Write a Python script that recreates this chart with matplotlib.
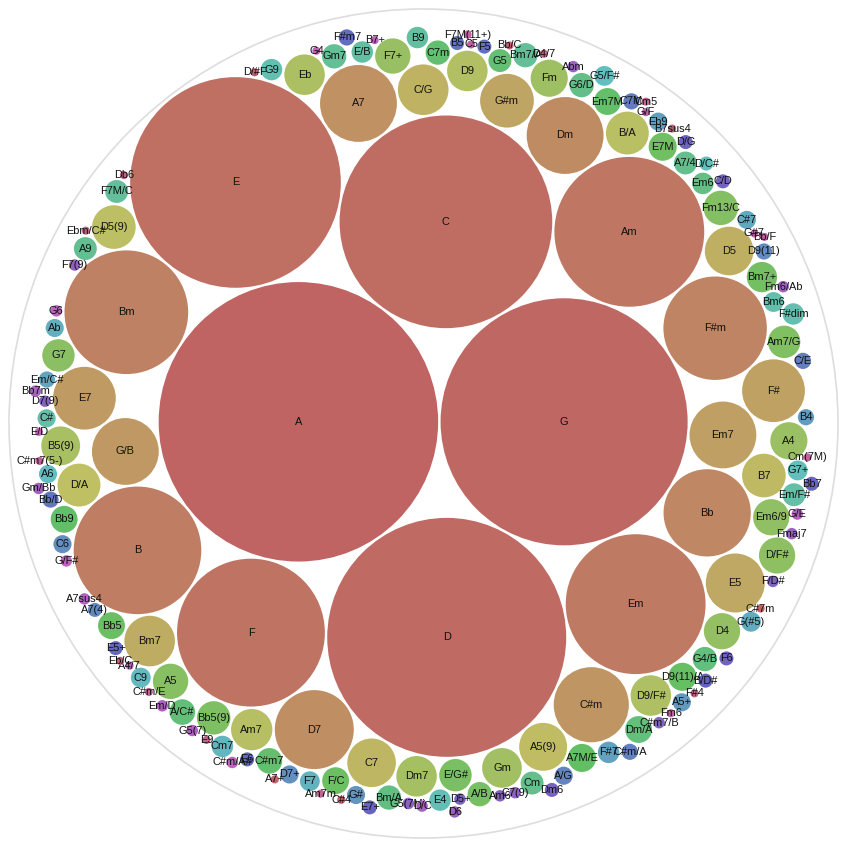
import math
import colorsys
import numpy as np
import matplotlib
matplotlib.use("Agg")
import matplotlib.pyplot as plt
from matplotlib.patches import Circle

# ---------------- data (in input order) ----------------
chords = [
    "A", "G", "D", "C", "E", "F", "Am", "Em", "B", "Bm", "F#m", "Bb", "Dm", "D7", "A7",
    "C#m", "G/B", "E7", "Em7", "F#", "G#m", "E5", "Bm7", "D5", "C/G", "C7", "B7",
    "A5(9)", "D/A", "D5(9)", "B/A", "Am7", "D9", "D9/F#", "Eb", "B5(9)", "Dm7",
    "Gm", "Fm", "A4", "F7+", "D4", "Em6/9", "D/F#", "G7", "A5", "Fm13/C", "Am7/G",
    "Bb5(9)", "E/G#", "A/B", "Bm7+", "E7M", "F/C", "Bb5", "D9(11)/A", "A7M/E", "Bb9",
    "Em7M", "C#m7", "C7m", "G5", "A/C#", "Dm/A", "G4/B",
    "Bm/A", "Em6", "G6/D", "Cm", "A7/4", "A9", "Gm7", "Bm7/A", "F7M/C", "B9", "E/B",
    "Em/F#", "C#", "Bm6", "F#dim", "G9",
    "E4", "D/C#", "G7+", "G5/F#", "A6", "C9", "Cm7", "F7", "Ab", "G(#5)", "C#7",
    "Em/C#", "F#7", "Eb9", "B4", "A5+", "G#", "D7+", "C6",
    "D9(11)", "A7(4)", "A/G", "C#m/A", "C/E", "C7M", "Bb/D", "B5", "F5", "F#m7",
    "E6", "E5+", "B/D#", "E7+", "Bb7", "D/G", "F6", "C/D", "Dm6",
    "D5+", "F/D#", "C#m7/B", "D7(9)", "Am6", "G5(7M)", "C7(9)", "F7(9)", "D6",
    "Fmaj7", "Abm", "Fm6/Ab", "Gm/Bb", "D/C", "Bb7m", "Em/D", "G5(7)", "A7sus4", "G/E",
    "G6", "C#m/A#", "G/F#",
    "B7+", "A4/7", "E/D", "G4", "G#7", "G/F", "Bb/F", "C5", "F7M(11+)", "Fm6",
    "Cm(7M)", "C#m7(5-)", "Am7m", "Cm5", "C#m/E", "E9", "Db6", "F#4", "Ebm/C#",
    "Eb/C", "D4/7", "B7sus4", "D/#F", "Bb/C", "A7+", "C#4", "C#7m",
]
counts = [
    1190, 930, 870, 689, 676, 333, 342, 298, 248, 233, 163, 116, 90, 95, 90,
    86, 68, 60, 68, 60, 44, 53, 39, 36, 39, 36, 29,
    35, 28, 29, 28, 26, 25, 25, 25, 23, 25,
    24, 21, 21, 19, 20, 20, 20, 16, 19, 18, 16,
    17, 16, 9, 14, 12, 11, 11, 12, 12, 11,
    11, 10, 9, 8, 10, 11, 9,
    9, 7, 9, 8, 8, 8, 9, 9, 8, 7, 7,
    8, 5, 6, 7, 7,
    7, 3, 6, 6, 5, 6, 7, 6, 5, 6, 5,
    4, 7, 5, 4, 5, 5, 5, 5,
    4, 3, 5, 4, 4, 4, 4, 3, 3, 4,
    3, 3, 3, 3, 3, 3, 3, 3, 3,
    2, 2, 2, 2, 2, 2, 2, 2, 2,
    2, 2, 2, 2, 2, 2, 2, 2, 2, 2,
    2, 2, 2,
    1, 1, 1, 1, 1, 1, 1, 1, 1, 1,
    1, 1, 1, 1, 1, 1, 1, 1, 1,
    1, 1, 1, 1, 1, 1, 1, 1,
]

# ---------------- d3-style circle packing ----------------
class Circ:
    __slots__ = ("x", "y", "r")
    def __init__(self, r):
        self.x = 0.0
        self.y = 0.0
        self.r = r


class Node:
    __slots__ = ("c", "next", "prev")
    def __init__(self, c):
        self.c = c
        self.next = None
        self.prev = None


def place(b, a, c):
    dx = b.x - a.x
    dy = b.y - a.y
    d2 = dx * dx + dy * dy
    if d2:
        a2 = (a.r + c.r) ** 2
        b2 = (b.r + c.r) ** 2
        if a2 > b2:
            x = (d2 + b2 - a2) / (2 * d2)
            y = math.sqrt(max(0.0, b2 / d2 - x * x))
            c.x = b.x - x * dx - y * dy
            c.y = b.y - x * dy + y * dx
        else:
            x = (d2 + a2 - b2) / (2 * d2)
            y = math.sqrt(max(0.0, a2 / d2 - x * x))
            c.x = a.x + x * dx - y * dy
            c.y = a.y + x * dy + y * dx
    else:
        c.x = a.x + c.r
        c.y = a.y


def intersects(a, b):
    dr = a.r + b.r - 1e-6
    dx = b.x - a.x
    dy = b.y - a.y
    return dr > 0 and dr * dr > dx * dx + dy * dy


def score(node):
    a = node.c
    b = node.next.c
    ab = a.r + b.r
    dx = (a.x * b.r + b.x * a.r) / ab
    dy = (a.y * b.r + b.y * a.r) / ab
    return dx * dx + dy * dy


def encloses_not(a, b):
    dr = a[2] - b[2]
    dx = b[0] - a[0]
    dy = b[1] - a[1]
    return dr < 0 or dr * dr < dx * dx + dy * dy


def encloses_weak(a, b):
    dr = a[2] - b[2] + max(a[2], b[2], 1) * 1e-9
    dx = b[0] - a[0]
    dy = b[1] - a[1]
    return dr > 0 and dr * dr > dx * dx + dy * dy


def encloses_weak_all(a, B):
    return all(encloses_weak(a, b) for b in B)


def basis2(a, b):
    x1, y1, r1 = a
    x2, y2, r2 = b
    x21, y21, r21 = x2 - x1, y2 - y1, r2 - r1
    l = math.sqrt(x21 * x21 + y21 * y21)
    return ((x1 + x2 + x21 / l * r21) / 2, (y1 + y2 + y21 / l * r21) / 2, (l + r1 + r2) / 2)


def basis3(a, b, c):
    x1, y1, r1 = a
    x2, y2, r2 = b
    x3, y3, r3 = c
    a2 = x1 - x2
    a3 = x1 - x3
    b2 = y1 - y2
    b3 = y1 - y3
    c2 = r2 - r1
    c3 = r3 - r1
    d1 = x1 * x1 + y1 * y1 - r1 * r1
    d2 = d1 - x2 * x2 - y2 * y2 + r2 * r2
    d3 = d1 - x3 * x3 - y3 * y3 + r3 * r3
    ab = a3 * b2 - a2 * b3
    xa = (b2 * d3 - b3 * d2) / (ab * 2) - x1
    xb = (b3 * c2 - b2 * c3) / ab
    ya = (a3 * d2 - a2 * d3) / (ab * 2) - y1
    yb = (a2 * c3 - a3 * c2) / ab
    A = xb * xb + yb * yb - 1
    Bq = 2 * (r1 + xa * xb + ya * yb)
    C = xa * xa + ya * ya - r1 * r1
    if abs(A) > 1e-6:
        r = -((Bq + math.sqrt(max(0.0, Bq * Bq - 4 * A * C))) / (2 * A))
    else:
        r = -(C / Bq)
    return (x1 + xa + xb * r, y1 + ya + yb * r, r)


def basis(B):
    if len(B) == 1:
        return B[0]
    if len(B) == 2:
        return basis2(B[0], B[1])
    return basis3(B[0], B[1], B[2])


def extend_basis(B, p):
    if encloses_weak_all(p, B):
        return [p]
    for i in range(len(B)):
        if encloses_not(p, B[i]) and encloses_weak_all(basis2(B[i], p), B):
            return [B[i], p]
    for i in range(len(B) - 1):
        for j in range(i + 1, len(B)):
            if (encloses_not(basis2(B[i], B[j]), p)
                    and encloses_not(basis2(B[i], p), B[j])
                    and encloses_not(basis2(B[j], p), B[i])
                    and encloses_weak_all(basis3(B[i], B[j], p), B)):
                return [B[i], B[j], p]
    return [p]


def enclose(circles):
    pts = [(c.x, c.y, c.r) for c in circles]
    rng = np.random.default_rng(1)
    pts = [pts[k] for k in rng.permutation(len(pts))]
    i, n, B, e = 0, len(pts), [], None
    guard = 0
    while i < n and guard < 200000:
        guard += 1
        p = pts[i]
        if e is not None and encloses_weak(e, p):
            i += 1
        else:
            B = extend_basis(B, p)
            e = basis(B)
            i = 0
    return e


def pack_siblings(circles):
    n = len(circles)
    a = circles[0]
    a.x, a.y = 0.0, 0.0
    if n == 1:
        return a.r
    b = circles[1]
    a.x = -b.r
    b.x = a.r
    b.y = 0.0
    if n == 2:
        return a.r + b.r
    c = circles[2]
    place(b, a, c)
    a, b, c = Node(a), Node(b), Node(c)
    a.next = c.prev = b
    b.next = a.prev = c
    c.next = b.prev = a
    i = 3
    while i < n:
        cc = circles[i]
        place(a.c, b.c, cc)
        c = Node(cc)
        j, k, sj, sk = b.next, a.prev, b.c.r, a.c.r
        restart = False
        while True:
            if sj <= sk:
                if intersects(j.c, c.c):
                    b = j
                    a.next = b
                    b.prev = a
                    restart = True
                    break
                sj += j.c.r
                j = j.next
            else:
                if intersects(k.c, c.c):
                    a = k
                    a.next = b
                    b.prev = a
                    restart = True
                    break
                sk += k.c.r
                k = k.prev
            if j is k.next:
                break
        if restart:
            continue
        c.prev = a
        c.next = b
        a.next = c
        b.prev = c
        b = c
        aa = score(a)
        c = c.next
        while c is not b:
            ca = score(c)
            if ca < aa:
                a, aa = c, ca
            c = c.next
        b = a.next
        i += 1
    chain = [b.c]
    c = b.next
    while c is not b:
        chain.append(c.c)
        c = c.next
    ex, ey, er = enclose(chain)
    for cc in circles:
        cc.x -= ex
        cc.y -= ey
    return er


# ---------------- layout ----------------
W = H = 847
ROOT_R = 406.0          # pixel radius of the packed root
PAD = 2.5               # pixel padding
CX, CY = 421.0, 416.0   # pixel centre of the packed root

names = list(chords)
vals = list(counts)
circs = [Circ(math.sqrt(v)) for v in vals]

r0 = pack_siblings(circs)
size = 2 * ROOT_R
pu = PAD * r0 / size
for c in circs:
    c.r += pu
e = pack_siblings(circs)
for c in circs:
    c.r -= pu
root_r = e + pu
k = ROOT_R / root_r

N = len(vals)

fig = plt.figure(figsize=(W / 100, H / 100), dpi=100)
ax = fig.add_axes([0, 0, 1, 1])
ax.set_xlim(0, W)
ax.set_ylim(H, 0)
ax.set_aspect("equal")
ax.axis("off")

ax.add_patch(Circle((423.5, 423.5), 414.5, facecolor="white", edgecolor="#dddddd",
                    linewidth=1.2, zorder=0))

for i, (nm, c) in enumerate(zip(names, circs)):
    h = i / N
    rgb = colorsys.hls_to_rgb(h, 0.57, 0.42)
    x = CX + c.x * k
    y = CY + c.y * k
    r = c.r * k
    ax.add_patch(Circle((x, y), r, facecolor=rgb, edgecolor="none", zorder=2 + 2 * i))
    ax.text(x, y, nm, ha="center", va="center", fontsize=7.9,
            family=["Liberation Sans", "DejaVu Sans"], color="#111111", zorder=3 + 2 * i)

fig.savefig("out.png", dpi=100, facecolor="white")
